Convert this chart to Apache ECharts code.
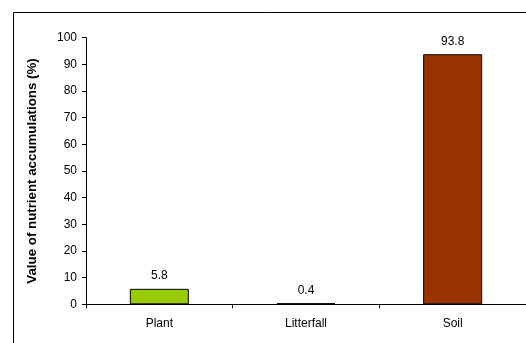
<!DOCTYPE html>
<html>
<head>
<meta charset="utf-8">
<script src="https://cdn.jsdelivr.net/npm/echarts@6/dist/echarts.min.js"></script>
<style>
  html, body { margin: 0; padding: 0; background: #fff; }
  #chart { width: 526px; height: 343px; }
</style>
</head>
<body>
<div id="chart"></div>
<script>
// Nutrient accumulation shares by compartment
const categories = ['Plant', 'Litterfall', 'Soil'];
const values = [5.8, 0.4, 93.8];
const barColors = ['#99CC00', '#666633', '#993300'];
const yTicks = [0, 10, 20, 30, 40, 50, 60, 70, 80, 90, 100];

const chart = echarts.init(document.getElementById('chart'), null, { renderer: 'canvas' });

const font = 'Arial, "Liberation Sans", sans-serif';

chart.setOption({
  animation: false,
  graphic: [{
    type: 'rect',
    shape: { x: 13.5, y: 12.5, width: 530, height: 350 },
    style: { fill: 'none', stroke: '#000', lineWidth: 1 },
    silent: true
  }],
  grid: { left: 86, right: -4, top: 37.7, bottom: 38.7, containLabel: false },
  xAxis: {
    type: 'category',
    data: categories,
    axisLine: { lineStyle: { color: '#000', width: 1 } },
    axisTick: { show: true, length: 4, lineStyle: { color: '#000' } },
    axisLabel: { color: '#000', fontFamily: font, fontSize: 12, margin: 13 },
    splitLine: { show: false }
  },
  yAxis: {
    type: 'value',
    min: yTicks[0],
    max: yTicks[yTicks.length - 1],
    interval: 10,
    name: 'Value of nutrient accumulations (%)',
    nameLocation: 'middle',
    nameGap: 47,
    nameRotate: 90,
    nameTextStyle: { color: '#000', fontFamily: font, fontSize: 13.3, fontWeight: 'bold' },
    axisLine: { show: true, lineStyle: { color: '#000', width: 1 } },
    axisTick: { show: true, length: 4, lineStyle: { color: '#000' } },
    axisLabel: { color: '#000', fontFamily: font, fontSize: 12, margin: 9 },
    splitLine: { show: false }
  },
  series: [{
    type: 'bar',
    data: values.map((v, i) => ({ value: v, itemStyle: { color: barColors[i] } })),
    barWidth: 59,
    itemStyle: { borderColor: '#000', borderWidth: 1 },
    label: {
      show: true,
      position: 'top',
      distance: 7,
      color: '#000',
      fontFamily: font,
      fontSize: 12,
      formatter: p => p.value.toFixed(1)
    }
  }]
});
</script>
</body>
</html>
